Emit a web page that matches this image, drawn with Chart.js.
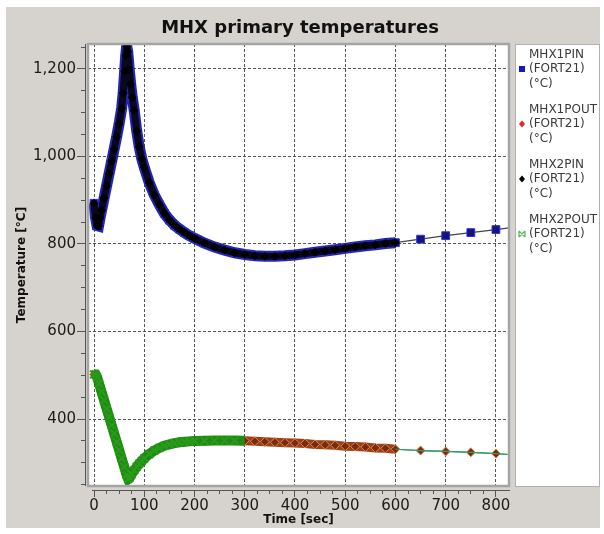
<!DOCTYPE html>
<html>
<head>
<meta charset="utf-8">
<script src="https://cdn.jsdelivr.net/npm/chart.js@4.4.0/dist/chart.umd.min.js"></script>
<style>
  html, body { margin: 0; padding: 0; background: #fff; }
</style>
</head>
<body>
<canvas id="chart" width="604" height="534"></canvas>
<script>
// Inlet temperatures (MHX1PIN and MHX2PIN lie on top of each other)
const pinTime = [0, 3, 6, 9, 12, 15, 20, 25, 30, 35, 40, 45, 50, 55, 58, 61, 63, 65, 67, 70, 73, 76, 80, 85, 90, 95, 100,
  110, 120, 130, 140, 150, 160, 170, 180, 190, 200, 220, 240, 260, 280, 300, 320, 340, 360, 380, 400,
  420, 440, 460, 480, 500, 520, 540, 560, 580, 600, 650, 700, 750, 800, 826]
const pinTemp = [893, 860, 842, 841, 860, 877, 905, 933, 961, 989, 1017, 1045, 1075, 1110, 1145, 1195, 1230, 1252, 1240, 1200, 1165, 1135, 1105, 1058, 1022, 995, 975,
  940, 912, 890, 870, 855, 843, 834, 826, 819, 813, 802, 793, 786, 780, 776, 773, 772, 772, 773, 775,
  778, 781, 784, 787, 790, 793, 796, 798, 801, 803, 811, 819, 826, 833, 837]

// Outlet temperatures (MHX1POUT and MHX2POUT lie on top of each other)
const poutTime = [0, 3, 6, 10, 15, 20, 25, 30, 35, 40, 45, 50, 55, 60, 65, 68, 71, 75, 80, 85, 90, 95, 100,
  110, 120, 130, 140, 150, 160, 170, 180, 190, 200, 220, 240, 260, 280, 300, 320, 340, 360, 380, 400,
  420, 440, 460, 480, 500, 520, 540, 560, 580, 600, 650, 700, 750, 800, 826]
const poutTemp = [502, 502, 496, 481, 462, 443, 424, 405, 386, 367, 348, 329, 310, 291, 272, 263, 266, 274, 283, 291, 298, 304, 310,
  320, 328, 334, 339, 342, 345, 347, 348, 349, 350, 350.5, 351, 351, 351, 350.5, 349, 348, 347, 346, 345,
  344, 342, 341, 340, 338, 337, 336, 334, 333, 331, 328, 326, 324, 321, 319]

const seriesNames = ["MHX1PIN", "MHX1POUT", "MHX2PIN", "MHX2POUT"]
const chartTitle = "MHX primary temperatures"

// Axis ticks
const xLabels = [0, 100, 200, 300, 400, 500, 600, 700, 800]
const yLabels = [400, 600, 800, 1000, 1200]
const xTicks = []
for (let v = 0; v <= 800; v += 25) xTicks.push(v)
const yTicks = []
for (let v = 250; v <= 1250; v += 50) yTicks.push(v)

const toPoints = (xs, ys) => xs.map((x, i) => ({ x: x, y: ys[i] }))

const BG = "#d6d3ce"

const framePlugin = {
  id: "frame",
  beforeDraw(chart) {
    const { ctx, chartArea: a } = chart
    ctx.save()
    ctx.fillStyle = "#fff"
    ctx.fillRect(0, 0, chart.width, chart.height)
    ctx.fillStyle = BG
    ctx.fillRect(6, 7, 594, 521)
    ctx.fillStyle = "#fff"
    ctx.fillRect(a.left, a.top, a.width, a.height)

    // title, centred on the whole panel
    ctx.fillStyle = "#111"
    ctx.font = "bold 18px 'DejaVu Sans', sans-serif"
    ctx.textAlign = "center"
    ctx.textBaseline = "middle"
    ctx.fillText(chartTitle, 300, 28)

    // axis lines sit a little outside the plot box
    ctx.strokeStyle = "#555"
    ctx.lineWidth = 1
    ctx.beginPath()
    ctx.moveTo(a.left - 2.5, a.top)
    ctx.lineTo(a.left - 2.5, a.bottom)
    ctx.moveTo(a.left + 4, a.bottom + 4.5)
    ctx.lineTo(a.right + 1, a.bottom + 4.5)
    ctx.stroke()
    ctx.restore()
  },
  afterDatasetsDraw(chart) {
    const { ctx, chartArea: a } = chart
    ctx.save()
    ctx.strokeStyle = "#a4a4a4"
    ctx.lineWidth = 2.5
    ctx.strokeRect(a.left, a.top, a.width, a.height)
    ctx.restore()
  },
  afterDraw(chart) {
    const { ctx, chartArea: a } = chart
    ctx.save()
    // legend box
    ctx.fillStyle = "#fff"
    ctx.fillRect(515, a.top, 84, a.height)
    ctx.strokeStyle = "#b0b0b0"
    ctx.lineWidth = 1
    ctx.strokeRect(515.5, a.top + 0.5, 84, a.height)

    ctx.font = "12px 'DejaVu Sans', sans-serif"
    ctx.textBaseline = "middle"
    ctx.textAlign = "left"
    seriesNames.forEach((name, i) => {
      const y0 = 54.5 + i * 55
      ctx.fillStyle = "#3a3a3a"
      ctx.fillText(name, 529, y0)
      ctx.fillText("(FORT21)", 529, y0 + 14.5)
      ctx.fillText("(\u00B0C)", 529, y0 + 29)
      const mx = 522, my = y0 + 14.5
      if (i === 0) {
        ctx.fillStyle = "#1414c8"
        ctx.fillRect(mx - 3, my - 3, 6, 6)
      } else if (i === 1) {
        ctx.fillStyle = "#e02828"
        ctx.beginPath()
        ctx.moveTo(mx, my - 3.5); ctx.lineTo(mx + 3, my); ctx.lineTo(mx, my + 3.5); ctx.lineTo(mx - 3, my)
        ctx.closePath(); ctx.fill()
      } else if (i === 2) {
        ctx.fillStyle = "#000"
        ctx.beginPath()
        ctx.moveTo(mx, my - 3.5); ctx.lineTo(mx + 3, my); ctx.lineTo(mx, my + 3.5); ctx.lineTo(mx - 3, my)
        ctx.closePath(); ctx.fill()
      } else {
        ctx.strokeStyle = "#5cb85c"
        ctx.lineWidth = 1.2
        ctx.beginPath()
        ctx.moveTo(mx - 3, my - 3); ctx.lineTo(mx + 3, my + 3)
        ctx.moveTo(mx + 3, my - 3); ctx.lineTo(mx - 3, my + 3)
        ctx.moveTo(mx - 3, my - 3); ctx.lineTo(mx - 3, my + 3)
        ctx.moveTo(mx + 3, my - 3); ctx.lineTo(mx + 3, my + 3)
        ctx.stroke()
      }
    })
    ctx.restore()
  }
}

Chart.defaults.font.family = "'DejaVu Sans', sans-serif"
Chart.defaults.color = "#1a1a1a"

const ctx = document.getElementById("chart").getContext("2d")
new Chart(ctx, {
  type: "line",
  data: {
    datasets: [
      {
        label: seriesNames[0],
        data: toPoints(pinTime, pinTemp),
        order: 2,
        borderColor: "#2828c8",
        backgroundColor: "#14147a",
        pointStyle: "rect",
        pointRadius: c => c.raw.x > 800 ? 0 : 5.5,
        pointBorderColor: "#3030e0",
        pointBorderWidth: 1,
        segment: {
          borderWidth: c => c.p0.parsed.x < 600 ? 11 : 1.2,
          borderColor: c => c.p0.parsed.x < 600 ? "#2424b4" : "#444"
        }
      },
      {
        label: seriesNames[1],
        data: toPoints(poutTime, poutTemp),
        order: 4,
        borderColor: "#8a3414",
        backgroundColor: "#7a2a10",
        pointStyle: "rectRot",
        pointRadius: c => c.raw.x > 800 ? 0 : 4.5,
        pointBorderColor: "#e0884a",
        pointBorderWidth: 1,
        segment: {
          borderWidth: c => c.p0.parsed.x < 600 ? 9 : 1.2,
          borderColor: c => c.p0.parsed.x < 600 ? "#9a4018" : "#3a9a6a"
        }
      },
      {
        label: seriesNames[2],
        data: toPoints(pinTime, pinTemp),
        order: 1,
        borderColor: "#08081e",
        backgroundColor: "#000",
        pointStyle: "rectRot",
        pointRadius: c => c.raw.x > 600 ? 0 : 4.5,
        pointBorderWidth: 0,
        segment: {
          borderWidth: c => c.p0.parsed.x < 600 ? 7 : 0,
          borderColor: c => c.p0.parsed.x < 600 ? "#08081e" : "rgba(0,0,0,0)"
        }
      },
      {
        label: seriesNames[3],
        data: toPoints(poutTime, poutTemp),
        order: 3,
        borderColor: "#1c8a1c",
        backgroundColor: "#1c8a1c",
        pointStyle: "crossRot",
        pointRadius: c => c.raw.x < 300 ? 5.5 : 0,
        pointBorderColor: "#2a9a1a",
        pointBorderWidth: 2,
        segment: {
          borderWidth: c => c.p0.parsed.x < 300 ? 10 : 1.2,
          borderColor: c => c.p0.parsed.x < 300 ? "#1e8c12" : (c.p0.parsed.x < 600 ? "rgba(0,0,0,0)" : "#3a9a6a")
        }
      }
    ]
  },
  options: {
    responsive: false,
    animation: false,
    clip: 0,
    layout: { padding: { top: 44, left: 6, right: 95, bottom: 6 } },
    plugins: {
      legend: { display: false },
      tooltip: { enabled: false },
      title: { display: false }
    },
    scales: {
      x: {
        type: "linear",
        min: -12,
        max: 826,
        afterBuildTicks: axis => { axis.ticks = xTicks.map(v => ({ value: v })) },
        afterFit: axis => { axis.height = 42 },
        border: { display: false, dash: [3, 2] },
        grid: {
          color: c => xLabels.includes(c.tick.value) ? "#555" : "rgba(0,0,0,0)",
          lineWidth: 1,
          tickLength: 11,
          tickColor: "#555",
          tickBorderDash: c => xLabels.includes(c.tick.value) ? [0, 4, 7, 20] : [0, 4, 4, 20]
        },
        ticks: {
          autoSkip: false,
          maxRotation: 0,
          padding: 0,
          font: { size: 15 },
          color: "#1a1a1a",
          callback: v => xLabels.includes(v) ? String(v) : ""
        },
        title: {
          display: true,
          text: "Time [sec]",
          font: { size: 12, weight: "bold" },
          color: "#111",
          padding: { top: 0, bottom: 1 }
        }
      },
      y: {
        type: "linear",
        min: 247,
        max: 1257,
        afterBuildTicks: axis => { axis.ticks = yTicks.map(v => ({ value: v })) },
        afterFit: axis => { axis.width = 82 },
        border: { display: false, dash: [3, 2] },
        grid: {
          color: c => yLabels.includes(c.tick.value) ? "#555" : "rgba(0,0,0,0)",
          lineWidth: 1,
          tickLength: 11,
          tickColor: "#555",
          tickBorderDash: c => yLabels.includes(c.tick.value) ? [8, 20] : [0, 4, 4, 20]
        },
        ticks: {
          autoSkip: false,
          padding: 1,
          font: { size: 15 },
          color: "#1a1a1a",
          callback: v => yLabels.includes(v) ? v.toLocaleString("en-US") : ""
        },
        title: {
          display: true,
          text: "Temperature [\u00B0C]",
          font: { size: 12, weight: "bold" },
          color: "#111",
          padding: { top: 9, bottom: 0 }
        }
      }
    }
  },
  plugins: [framePlugin]
})
</script>
</body>
</html>
